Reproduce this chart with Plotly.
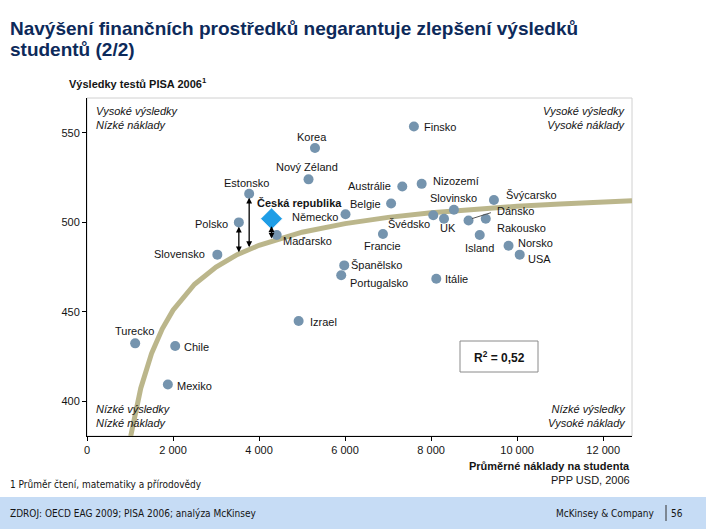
import plotly.graph_objects as go

# ---------------- data ----------------
countries = ["Korea", "Nový Zéland", "Estonsko", "Polsko", "Slovensko", "Maďarsko",
             "Německo", "Španělsko", "Portugalsko", "Itálie", "Izrael", "Turecko",
             "Chile", "Mexiko", "Finsko", "Austrálie", "Nizozemí", "Belgie",
             "Slovinsko", "Švýcarsko", "Dánsko", "Švédsko", "UK", "Rakousko",
             "Francie", "Island", "Norsko", "USA"]
spend = [5300, 5150, 3770, 3530, 3030, 4410,
         6010, 5980, 5910, 8120, 4920, 1120,
         2050, 1880, 7600, 7330, 7780, 7070,
         8530, 9460, 8870, 8050, 8300, 9270,
         6880, 9130, 9800, 10060]
score = [541.5, 524, 516, 500, 482, 493,
         504.5, 476, 470.5, 468.5, 445, 432.5,
         431, 409.5, 553.5, 520, 521.5, 510.5,
         507, 512.5, 501, 504, 502, 502,
         493.5, 493, 487, 482]

cz_name = "Česká republika"
cz_spend = 4290
cz_score = 502

# gaps between a country and the trend curve (x, top, bottom)
gap_x = [3530, 3770, 4290]
gap_top = [497.6, 513.8, 497.9]
gap_bottom = [482.5, 485.3, 490.1]

# trend curve
curve_x = [1016, 1100, 1250, 1500, 1750, 2000, 2500, 3000, 3500, 4000, 5000,
           6000, 7000, 8000, 9000, 10000, 11000, 12670]
curve_y = [380.7, 391.6, 407.5, 426.8, 440.6, 451.0, 465.5, 475.1, 482.1, 487.2, 494.5,
           499.3, 502.8, 505.4, 507.4, 509.0, 510.3, 512.1]

x_ticks = [0, 2000, 4000, 6000, 8000, 10000, 12000]
x_tick_labels = ["0", "2 000", "4 000", "6 000", "8 000", "10 000", "12 000"]
y_ticks = [400, 450, 500, 550]
r2_text = "R<sup>2</sup> = 0,52"

title_lines = ["Navýšení finančních prostředků negarantuje zlepšení výsledků",
               "studentů (2/2)"]

# ---------------- label layout (anchor, dx px, dy px) ----------------
label_layout = {
    "Korea": ("center", -3, 11), "Nový Zéland": ("center", -2, 12),
    "Estonsko": ("center", -3, 11), "Polsko": ("right", -9, -2),
    "Slovensko": ("right", -10, 1), "Maďarsko": ("left", 4, -6),
    "Německo": ("right", -6, -3), "Španělsko": ("left", 5, 0),
    "Portugalsko": ("left", 7, -8), "Itálie": ("left", 7, 0),
    "Izrael": ("left", 9, -1), "Turecko": ("center", -1, 12),
    "Chile": ("left", 7, -1), "Mexiko": ("left", 7, -1),
    "Finsko": ("left", 8, 0), "Austrálie": ("right", -9, 1),
    "Nizozemí": ("left", 9, 3), "Belgie": ("right", -8, 0),
    "Slovinsko": ("center", 0, 12), "Švýcarsko": ("left", 10, 5),
    "Dánsko": ("left", 26, 10), "Švédsko": ("right", -1, -9),
    "UK": ("center", 4, -9), "Rakousko": ("left", 9, -9),
    "Francie": ("center", 0, -12), "Island": ("center", 0, -13),
    "Norsko": ("left", 7, 3), "USA": ("left", 6, -4),
}

FONT = "Liberation Sans, Arial, sans-serif"
NARROW = "DejaVu Sans Condensed, Liberation Sans Narrow, Arial Narrow, sans-serif"
TXT = "#141414"
DOT = "#7594ae"

fig = go.Figure()

fig.add_trace(go.Scatter(x=curve_x, y=curve_y, mode="lines",
                         line=dict(color="rgba(180,174,126,0.9)", width=5),
                         hoverinfo="skip", showlegend=False))
fig.add_trace(go.Scatter(x=spend, y=score, mode="markers",
                         marker=dict(size=10, color=DOT),
                         text=countries, showlegend=False))
fig.add_trace(go.Scatter(x=[cz_spend], y=[cz_score], mode="markers",
                         marker=dict(size=17, symbol="diamond", color="#1e9de6",
                                     line=dict(color="white", width=1)),
                         text=[cz_name], showlegend=False))

annotations = []
for name, xv, yv in zip(countries, spend, score):
    anc, dx, dy = label_layout[name]
    annotations.append(dict(x=xv, y=yv, text=name, showarrow=False, xanchor=anc,
                            yanchor="middle", xshift=dx, yshift=dy,
                            font=dict(family=FONT, size=11, color=TXT)))
annotations.append(dict(x=cz_spend, y=cz_score, text="<b>" + cz_name + "</b>",
                        showarrow=False, xanchor="left", yanchor="middle",
                        xshift=-17, yshift=16,
                        font=dict(family=FONT, size=11, color=TXT)))

for gx, gt, gb in zip(gap_x, gap_top, gap_bottom):
    annotations.append(dict(x=gx, y=gt, ax=gx, ay=gb, axref="x", ayref="y",
                            xref="x", yref="y", text="", showarrow=True,
                            arrowhead=2, arrowside="end+start", arrowsize=0.9,
                            arrowwidth=1.3, arrowcolor="black"))


def page(px, py):
    """page pixel -> paper fraction of the plot area"""
    return (px - 87) / 545, (436 - py) / 338


# quadrant labels
quad = [
    (0.013, 0.985, "left", "top", "<i>Vysoké výsledky<br>Nízké náklady</i>"),
    (0.992, 0.985, "right", "top", "<i>Vysoké výsledky<br>Vysoké náklady</i>"),
    (0.013, 0.015, "left", "bottom", "<i>Nízké výsledky<br>Nízké náklady</i>"),
    (0.992, 0.015, "right", "bottom", "<i>Nízké výsledky<br>Vysoké náklady</i>"),
]
for qx, qy, xa, ya, t in quad:
    annotations.append(dict(x=qx, y=qy, xref="paper", yref="paper", text=t,
                            showarrow=False, xanchor=xa, yanchor=ya, align=xa,
                            font=dict(family=FONT, size=11, color=TXT)))

# R2 box text
rtx, rty = page(499, 357)
annotations.append(dict(x=rtx, y=rty, xref="paper", yref="paper",
                        text="<b>" + r2_text + "</b>", showarrow=False,
                        xanchor="center", yanchor="middle",
                        font=dict(family=FONT, size=12, color=TXT)))

# axis title
annotations.append(dict(x=1.0, y=page(0, 466)[1], xref="paper", yref="paper",
                        text="<b>Průměrné náklady na studenta</b>", showarrow=False,
                        xanchor="right", yanchor="middle",
                        font=dict(family=FONT, size=11, color=TXT)))
annotations.append(dict(x=1.0, y=page(0, 479.5)[1], xref="paper", yref="paper",
                        text="PPP USD, 2006", showarrow=False,
                        xanchor="right", yanchor="middle",
                        font=dict(family=FONT, size=11, color=TXT)))

for line, ly in zip(title_lines, [29, 50]):
    tx, ty = page(8, ly)
    annotations.append(dict(x=tx, y=ty, xref="paper", yref="paper",
                            text="<b>" + line + "</b>",
                            showarrow=False, xanchor="left", yanchor="middle", align="left",
                            font=dict(family=FONT, size=19, color="#0d2a5a")))
sx, sy = page(67, 83)
annotations.append(dict(x=sx, y=sy, xref="paper", yref="paper",
                        text="<b>Výsledky testů PISA 2006<sup>1</sup></b>",
                        showarrow=False, xanchor="left", yanchor="middle",
                        font=dict(family=FONT, size=11, color=TXT)))
fx, fy = page(8, 484)
annotations.append(dict(x=fx, y=fy, xref="paper", yref="paper",
                        text="1 Průměr čtení, matematiky a přírodovědy",
                        showarrow=False, xanchor="left", yanchor="middle",
                        font=dict(family=NARROW, size=10, color=TXT)))
zx, zy = page(8, 513)
annotations.append(dict(x=zx, y=zy, xref="paper", yref="paper",
                        text="ZDROJ: OECD EAG 2009; PISA 2006; analýza McKinsey",
                        showarrow=False, xanchor="left", yanchor="middle",
                        font=dict(family=NARROW, size=10, color=TXT)))
mx, my = page(657, 513)
annotations.append(dict(x=mx, y=my, xref="paper", yref="paper",
                        text="McKinsey &amp; Company", showarrow=False,
                        xanchor="right", yanchor="middle",
                        font=dict(family=NARROW, size=10, color=TXT)))
nx, ny = page(677, 513)
annotations.append(dict(x=nx, y=ny, xref="paper", yref="paper",
                        text="56", showarrow=False, xanchor="center", yanchor="middle",
                        font=dict(family=NARROW, size=10, color=TXT)))

shapes = []
# footer band
b0x, b0y = page(0, 497)
b1x, b1y = page(706, 529)
shapes.append(dict(type="rect", xref="paper", yref="paper", x0=b0x, y0=b0y, x1=b1x, y1=b1y,
                   fillcolor="#c6dcf5", line=dict(width=0), layer="below"))
v0x, v0y = page(666, 505)
v1x, v1y = page(666, 521)
shapes.append(dict(type="line", xref="paper", yref="paper", x0=v0x, y0=v0y, x1=v1x, y1=v1y,
                   line=dict(color="#333333", width=1)))
# light plot frame (top / right)
shapes.append(dict(type="rect", xref="paper", yref="paper", x0=0, y0=0, x1=1, y1=1,
                   line=dict(color="#d0d0d0", width=1), layer="below"))
# Dánsko leader line
shapes.append(dict(type="line", xref="x", yref="y", x0=8950, y0=502.1, x1=9390, y1=505.4,
                   line=dict(color="#555555", width=1)))
# R2 box
bx0, by1 = page(460, 341)
bx1, by0 = page(538, 372)
shapes.append(dict(type="rect", xref="paper", yref="paper", x0=bx0, y0=by0, x1=bx1, y1=by1,
                   line=dict(color="#8a8a8a", width=1), fillcolor="white", layer="below"))

fig.update_layout(
    width=706, height=529,
    margin=dict(l=87, r=74, t=98, b=93),
    paper_bgcolor="white", plot_bgcolor="white",
    annotations=annotations, shapes=shapes,
    showlegend=False,
    xaxis=dict(range=[0, 12670], tickvals=x_ticks, ticktext=x_tick_labels,
               showgrid=False, zeroline=False, showline=True, linecolor="black",
               linewidth=1, ticks="outside", ticklen=4, tickcolor="black",
               tickfont=dict(family=FONT, size=11, color=TXT)),
    yaxis=dict(range=[380.8, 569.4], tickvals=y_ticks,
               showgrid=False, zeroline=False, showline=True, linecolor="black",
               linewidth=1, ticks="outside", ticklen=4, tickcolor="black",
               tickfont=dict(family=FONT, size=11, color=TXT)),
)

fig.write_html("out.html", config={"displayModeBar": False},
               post_script="document.body.style.margin='0px';document.body.style.padding='0px';")
